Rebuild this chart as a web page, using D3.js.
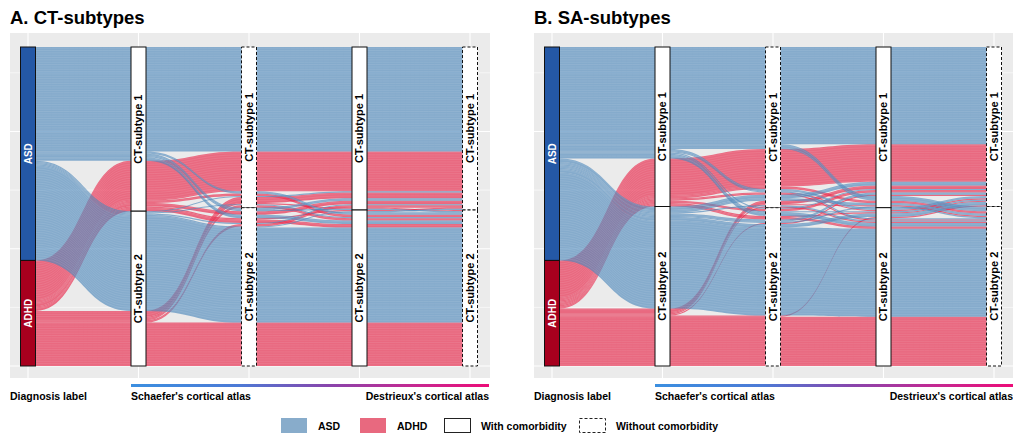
<!DOCTYPE html>
<html><head><meta charset="utf-8">
<script src="https://cdn.jsdelivr.net/npm/d3@7"></script>
<style>body{margin:0;background:#fff;} text{font-family:"Liberation Sans",Arial,sans-serif;}</style>
</head><body><svg id="c" width="1013" height="437"></svg>
<script>
// ---------- data ----------
const diagnoses = ["ASD", "ADHD"];
const subtypeLabels = ["CT-subtype 1", "CT-subtype 2"];
const axisNames = ["Diagnosis", "Schaefer with comorbidity", "Schaefer without comorbidity", "Destrieux with comorbidity", "Destrieux without comorbidity"];
const panelTitles = ["A. CT-subtypes", "B. SA-subtypes"];
const atlasLabels = ["Schaefer's cortical atlas", "Destrieux's cortical atlas"];
const legendLabels = ["ASD", "ADHD", "With comorbidity", "Without comorbidity"];
// each path: diagnosis, subtype at the four atlas axes
const ctPaths = [
  ["ASD",1,1,1,1],["ASD",1,1,2,2],["ASD",1,2,2,2],["ASD",1,2,1,1],["ASD",1,2,1,2],
  ["ASD",2,1,1,1],["ASD",2,1,2,2],["ASD",2,2,1,1],["ASD",2,2,2,2],["ASD",2,2,2,1],
  ["ADHD",1,1,1,1],["ADHD",1,1,2,2],["ADHD",1,2,1,1],["ADHD",1,2,2,2],["ADHD",1,2,2,1],
  ["ADHD",2,1,1,1],["ADHD",2,1,2,2],["ADHD",2,1,1,2],["ADHD",2,2,1,1],["ADHD",2,2,2,2]
];
const ctCounts = [89,2,3,2,1, 1,1,1,81,1, 34,2,3,3,1, 5,2,1,2,37];
const saPaths = [
  ["ASD",1,1,1,1],["ASD",1,1,2,2],["ASD",1,1,1,2],["ASD",1,1,2,1],["ASD",1,2,2,2],["ASD",1,2,1,1],["ASD",1,2,2,1],
  ["ASD",2,1,1,1],["ASD",2,1,2,2],["ASD",2,1,1,2],["ASD",2,2,1,1],["ASD",2,2,2,1],["ASD",2,2,1,2],["ASD",2,2,2,2],
  ["ADHD",1,1,1,1],["ADHD",1,1,2,2],["ADHD",1,1,1,2],["ADHD",1,1,2,1],["ADHD",1,2,1,1],["ADHD",1,2,2,2],["ADHD",1,2,2,1],
  ["ADHD",2,1,1,1],["ADHD",2,1,2,2],["ADHD",2,1,1,2],["ADHD",2,2,1,1],["ADHD",2,2,2,1],["ADHD",2,2,2,2]
];
const saCounts = [83,1,4,2,3,1,1, 3,1,2,2,3,1,75, 32,1,2,1,2,2,1, 3,1,1,1,1,42];

// ---------- styles ----------
const flowFill = {ASD: "#4E89BB", ADHD: "#E82446"};
const flowOpacity = 0.65;
const stratFill = {ASD: "#2458A6", ADHD: "#A8001E"};
const legendFill = {ASD: "#88ACCB", ADHD: "#E8697F"};

const svg = d3.select("#c");
const defs = svg.append("defs");
const grad = defs.append("linearGradient").attr("id", "atlasGrad").attr("x1", "0%").attr("x2", "100%");
[["0%", "#3B8FE0"], ["30%", "#4C7AD6"], ["55%", "#8845AC"], ["80%", "#C82690"], ["100%", "#EC0C78"]]
  .forEach(([o, c]) => grad.append("stop").attr("offset", o).attr("stop-color", c));

const yTop = 47, yBot = 366, panelTop = 33, panelBot = 378, panelW = 480;
const axisGap = 110.5, stratW = 15;
const zig = [[0,1,2,3,4],[1,0,2,3,4],[2,1,3,0,4],[3,4,2,1,0],[4,3,2,1,0]];

const panels = [
  {title: panelTitles[0], paths: ctPaths, counts: ctCounts, x0: 10},
  {title: panelTitles[1], paths: saPaths, counts: saCounts, x0: 534}
];

function ribbon(xa, xb, a0, a1, b0, b1) {
  const xm = (xa + xb) / 2;
  return `M${xa - 2},${a0}L${xa},${a0}C${xm},${a0} ${xm},${b0} ${xb},${b0}L${xb + 2},${b0}L${xb + 2},${b1}L${xb},${b1}C${xm},${b1} ${xm},${a1} ${xa},${a1}L${xa - 2},${a1}Z`;
}
function edge(xa, xb, a, b) {
  const xm = (xa + xb) / 2;
  return `M${xa},${a}C${xm},${a} ${xm},${b} ${xb},${b}`;
}

panels.forEach(p => {
  const g = svg.append("g");
  const firstAxis = p.x0 + 18;
  const x = d3.scalePoint().domain(axisNames).range([firstAxis, firstAxis + 4 * axisGap]);
  // subjects (one alluvium per subject) and groups (identical paths)
  const subjects = [], groups = [];
  p.paths.forEach((path, pi) => {
    const grp = {diag: path[0], members: []};
    for (let k = 0; k < p.counts[pi]; k++) {
      const s = {diag: path[0], v: [diagnoses.indexOf(path[0]), path[1]-1, path[2]-1, path[3]-1, path[4]-1], id: subjects.length, y0: [], y1: []};
      subjects.push(s); grp.members.push(s);
    }
    groups.push(grp);
  });
  const N = subjects.length;
  const yStack = d3.scaleLinear().domain([0, N]).range([yTop, yBot]);
  const yCount = d3.scaleLinear().domain([0, N]).range([yBot, yTop]);
  axisNames.forEach((a, i) => {
    const order = zig[i];
    const sorted = subjects.slice().sort((s, t) => {
      for (const j of order) { if (s.v[j] !== t.v[j]) return s.v[j] - t.v[j]; }
      return s.id - t.id;
    });
    sorted.forEach((s, k) => { s.y0[i] = k; s.y1[i] = k + 1; });
  });

  // background & grid
  g.append("rect").attr("x", p.x0).attr("y", panelTop).attr("width", panelW).attr("height", panelBot - panelTop).attr("fill", "#EBEBEB");
  const minor = [50, 150, 250], major = [0, 100, 200];
  minor.forEach(t => g.append("line").attr("x1", p.x0).attr("x2", p.x0 + panelW).attr("y1", yCount(t)).attr("y2", yCount(t)).attr("stroke", "#fff").attr("stroke-width", 0.6));
  major.forEach(t => g.append("line").attr("x1", p.x0).attr("x2", p.x0 + panelW).attr("y1", yCount(t)).attr("y2", yCount(t)).attr("stroke", "#fff").attr("stroke-width", 1.1));
  axisNames.forEach(a => g.append("line").attr("x1", x(a)).attr("x2", x(a)).attr("y1", panelTop).attr("y2", panelBot).attr("stroke", "#fff").attr("stroke-width", 1.1));

  // flows
  const fg = g.append("g");
  const drawOrder = groups.filter(gr => gr.diag === "ADHD" && gr.members.length).concat(groups.filter(gr => gr.diag === "ASD" && gr.members.length));
  drawOrder.forEach(gr => {
    const f = gr.members[0], l = gr.members[gr.members.length - 1];
    for (let i = 0; i < 4; i++) {
      const xa = x(axisNames[i]) + stratW / 2, xb = x(axisNames[i + 1]) - stratW / 2;
      fg.append("path").attr("d", ribbon(xa, xb, yStack(f.y0[i]), yStack(l.y1[i]), yStack(f.y0[i + 1]), yStack(l.y1[i + 1])))
        .attr("fill", flowFill[gr.diag]).attr("fill-opacity", flowOpacity);
      // faint seams between individual alluvia
      gr.members.slice(1).forEach((s, k) => {
        if (k % 2) return;
        fg.append("path").attr("d", edge(xa, xb, yStack(s.y0[i]), yStack(s.y0[i + 1])))
          .attr("fill", "none").attr("stroke", "#fff").attr("stroke-opacity", 0.13).attr("stroke-width", 0.7);
      });
    }
  });

  // strata
  axisNames.forEach((a, i) => {
    [0, 1].forEach(k => {
      const mem = subjects.filter(s => s.v[i] === k);
      if (!mem.length) return;
      const top = yStack(d3.min(mem, s => s.y0[i])), bot = yStack(d3.max(mem, s => s.y1[i]));
      const r = g.append("rect").attr("x", x(a) - stratW / 2).attr("y", top).attr("width", stratW).attr("height", bot - top)
        .attr("stroke", "#111").attr("stroke-width", 1);
      let label, col, fs;
      if (i === 0) { label = diagnoses[k]; r.attr("fill", stratFill[label]); col = "#fff"; fs = 10; }
      else { label = subtypeLabels[k]; r.attr("fill", "#fff"); col = "#000"; fs = 11; if (i % 2 === 0) r.attr("stroke-dasharray", "3,2"); }
      g.append("text").attr("transform", `translate(${x(a)},${(top + bot) / 2}) rotate(-90)`)
        .attr("text-anchor", "middle").attr("dy", "0.36em").attr("fill", col)
        .attr("font-size", fs).attr("font-weight", "bold").text(label);
    });
  });

  // title
  svg.append("text").attr("x", p.x0).attr("y", 24).attr("font-size", 18.5).attr("font-weight", "bold").attr("fill", "#000").text(p.title);
  // bottom annotations
  svg.append("text").attr("x", p.x0).attr("y", 400).attr("font-size", 10.5).attr("font-weight", "bold").text("Diagnosis label");
  const gx0 = x(axisNames[1]) - stratW / 2, gx1 = p.x0 + panelW - 1;
  svg.append("rect").attr("x", gx0).attr("y", 384).attr("width", gx1 - gx0).attr("height", 3).attr("fill", "url(#atlasGrad)");
  svg.append("text").attr("x", gx0).attr("y", 400).attr("font-size", 10.5).attr("font-weight", "bold").text(atlasLabels[0]);
  svg.append("text").attr("x", gx1).attr("y", 400).attr("text-anchor", "end").attr("font-size", 10.5).attr("font-weight", "bold").text(atlasLabels[1]);
});

// legend
const lg = svg.append("g");
const legendX = [281, 360, 444, 579];
legendLabels.forEach((lab, i) => {
  const r = lg.append("rect").attr("x", legendX[i]).attr("y", 418).attr("width", 26).attr("height", 15);
  if (i < 2) r.attr("fill", legendFill[lab]);
  else { r.attr("fill", "#fff").attr("stroke", "#222").attr("stroke-width", 1).attr("x", legendX[i] + 0.5).attr("y", 418.5).attr("height", 14); if (i === 3) r.attr("stroke-dasharray", "3,2"); }
  lg.append("text").attr("x", legendX[i] + 37).attr("y", 430).attr("font-size", 10.5).attr("font-weight", "bold").text(lab);
});
</script></body></html>
